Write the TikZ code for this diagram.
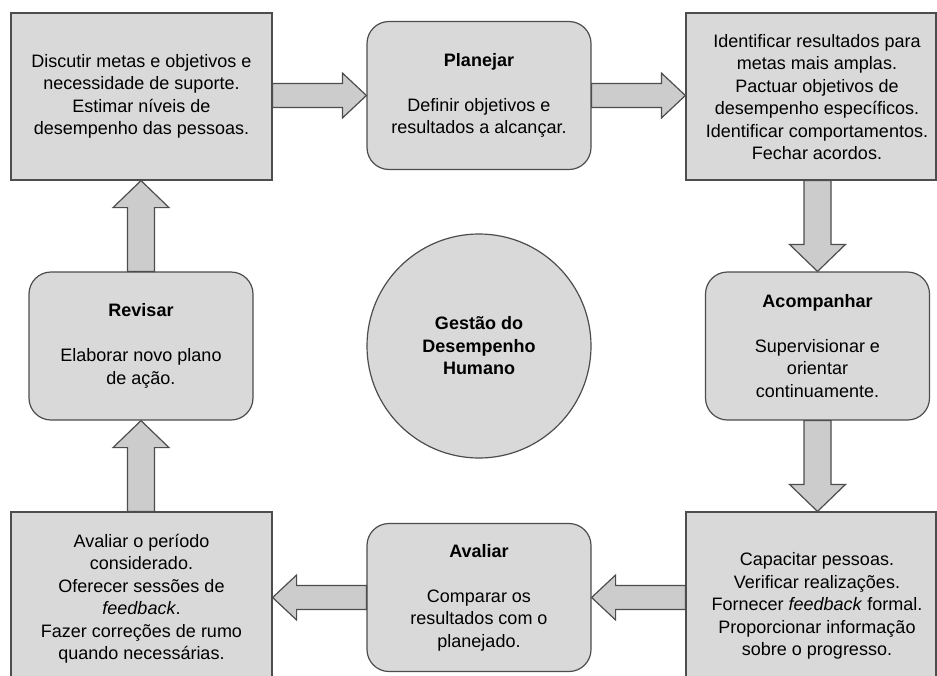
\documentclass[tikz,border=0pt]{standalone}
\usepackage{fontspec}
\setmainfont{Liberation Sans}
\usetikzlibrary{calc}
\definecolor{boxfill}{RGB}{217,217,217}
\definecolor{arrfill}{RGB}{204,204,204}
\definecolor{lineclr}{RGB}{77,77,77}
\newcommand{\blockH}[2]{%
  \path[barrow] let \p1=(#1), \p2=(#2), \p3=($(#2)!24pt!(#1)$) in
   (\x1,\y1+12pt) -- (\x3,\y1+12pt) -- (\x3,\y1+22.5pt) -- (\x2,\y1) --
   (\x3,\y1-22.5pt) -- (\x3,\y1-12pt) -- (\x1,\y1-12pt) -- cycle;}
\newcommand{\blockV}[2]{%
  \path[barrow] let \p1=(#1), \p2=(#2), \p3=($(#2)!27pt!(#1)$) in
   (\x1+13.5pt,\y1) -- (\x1+13.5pt,\y3) -- (\x1+28pt,\y3) -- (\x1,\y2) --
   (\x1-28pt,\y3) -- (\x1-13.5pt,\y3) -- (\x1-13.5pt,\y1) -- cycle;}
\begin{document}
\begin{tikzpicture}[x=1pt,y=-1pt,
  every node/.style={font=\fontsize{18}{22.5}\selectfont, align=center},
  sqbox/.style={draw=lineclr, fill=boxfill, line width=1.2pt, minimum width=261pt, minimum height=167pt, inner sep=0pt},
  rbox/.style={draw=lineclr, fill=boxfill, line width=1.2pt, rounded corners=22pt, minimum width=224pt, minimum height=148pt, inner sep=0pt},
  hub/.style={draw=lineclr, fill=boxfill, line width=1.2pt, circle, minimum size=224pt, inner sep=0pt},
  txt/.style={inner sep=0pt},
  barrow/.style={draw=lineclr, fill=arrfill, line width=1.2pt, line join=miter}]
\useasboundingbox (0,0) rectangle (937,675);
\clip (0,0) rectangle (937,675);
\fill[white] (0,0) rectangle (937,675);

\node[sqbox] (tl) at (141.5,96.5) {Discutir metas e objetivos e\\ necessidade de suporte.\\ Estimar níveis de\\ desempenho das pessoas.};
\node[rbox] (plan) at (479,95.5) {\textbf{Planejar}\\[22.5pt] Definir objetivos e\\ resultados a alcançar.};
\node[sqbox, minimum width=250pt] (tr) at (811,96.5) {};
\node[txt] (trtext) at (817,97) {Identificar resultados para\\ metas mais amplas.\\ Pactuar objetivos de\\ desempenho específicos.\\ Identificar comportamentos.\\ Fechar acordos.};
\node[rbox] (acomp) at (817.5,346) {\textbf{Acompanhar}\\[22.5pt] Supervisionar e\\ orientar\\ continuamente.};
\node[hub] (hub) at (479,346) {\textbf{Gestão do}\\ \textbf{Desempenho}\\ \textbf{Humano}};
\node[rbox] (rev) at (141,346) {\textbf{Revisar}\\[22.5pt] Elaborar novo plano\\ de ação.};
\node[sqbox, minimum height=173pt] (bl) at (141.5,598.5) {Avaliar o período\\ considerado.\\ Oferecer sessões de\\ \textit{feedback}.\\ Fazer correções de rumo\\ quando necessárias.};
\node[rbox] (aval) at (479,597.5) {\textbf{Avaliar}\\[22.5pt] Comparar os\\ resultados com o\\ planejado.};
\node[sqbox, minimum width=250pt, minimum height=188pt] (br) at (811,606) {};
\node[txt] (brtext) at (817,606) {Capacitar pessoas.\\ Verificar realizações.\\ Fornecer \textit{feedback} formal.\\ Proporcionar informação\\ sobre o progresso.};

\blockH{tl.east |- plan.center}{plan.west}
\blockH{plan.east}{tr.west |- plan.center}
\blockV{tr.south -| acomp.center}{acomp.north}
\blockV{acomp.south}{br.north -| acomp.center}
\blockH{br.west |- aval.center}{aval.east}
\blockH{aval.west}{bl.east |- aval.center}
\blockV{bl.north -| rev.center}{rev.south}
\blockV{rev.north}{tl.south -| rev.center}
\end{tikzpicture}
\end{document}
